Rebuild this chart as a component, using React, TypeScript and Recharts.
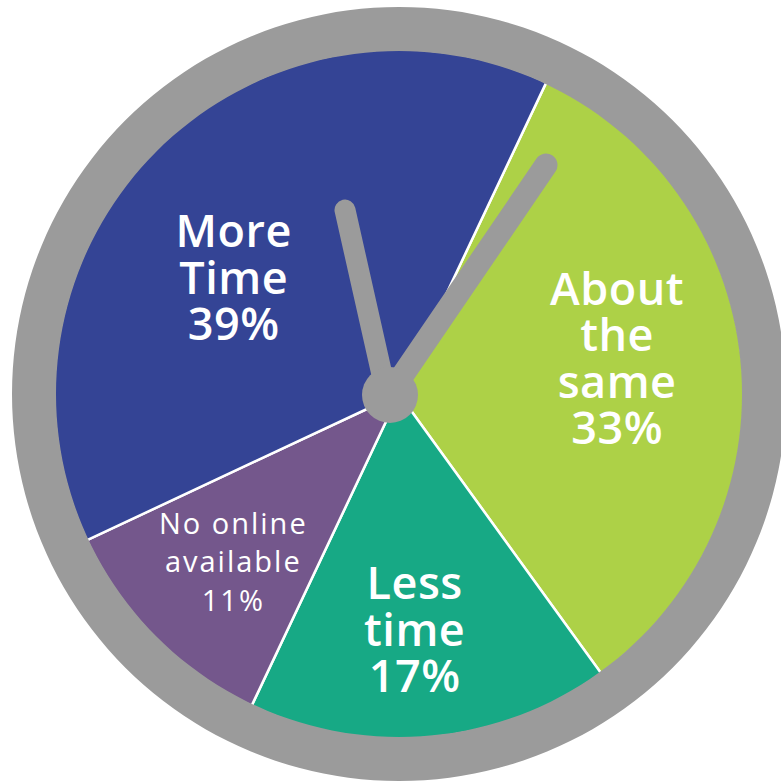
import { PieChart, Pie, Cell } from 'recharts';

const categories = ['About the same', 'Less time', 'No online available', 'More Time'];
const shares = [33, 17, 11, 39];
const labelLines = [
  ['About', 'the', 'same', '33%'],
  ['Less', 'time', '17%'],
  ['No online', 'available', '11%'],
  ['More', 'Time', '39%'],
];

const COLORS = ['#add147', '#17a985', '#74578c', '#344495'];
const RING = '#9b9b9b';

// label placement tweaks (radius from centre, angle nudge in degrees)
const LABEL_POS = [
  { r: 221, da: 4 },
  { r: 236, da: -1.5 },
  { r: 236, da: 0.5 },
  { r: 202, da: 10 },
];

const data = categories.map((name, i) => ({ name, value: shares[i], idx: i }));
const ring = [{ name: 'ring', value: 1 }];

const CX = 399;
const CY = 394;
const RAD = Math.PI / 180;

function SliceLabel(props: any) {
  const { cx, cy, midAngle, index } = props;
  const pos = LABEL_POS[index];
  const a = (midAngle + pos.da) * RAD;
  const x = cx + pos.r * Math.cos(a);
  const y = cy - pos.r * Math.sin(a);
  const lines = labelLines[index];
  const small = index === 2;
  const fs = small ? 29 : 45;
  const lh = small ? 38.5 : 46.5;
  const cap = fs * 0.714;
  const first = y - ((lines.length - 1) * lh + cap) / 2 + cap;
  return (
    <text
      x={x}
      y={first}
      textAnchor="middle"
      fill="#ffffff"
      fontFamily="'Open Sans', sans-serif"
      fontWeight={small ? 500 : 600}
      fontSize={fs}
      letterSpacing={small ? 2 : 0.5}
    >
      {lines.map((t, k) => (
        <tspan key={k} x={x} y={first + k * lh}>{t}</tspan>
      ))}
    </text>
  );
}

export default function App() {
  return (
    <div style={{ position: 'absolute', left: 0, top: 0, width: 781, height: 782, background: '#fff' }}>
      <PieChart width={781} height={782} margin={{ top: 0, right: 0, bottom: 0, left: 0 }}>
        <Pie
          data={data}
          dataKey="value"
          nameKey="name"
          cx={CX}
          cy={CY}
          outerRadius={345}
          startAngle={64.7}
          endAngle={-295.3}
          stroke="#ffffff"
          strokeWidth={2.5}
          label={SliceLabel}
          labelLine={false}
          isAnimationActive={false}
        >
          {data.map((d, i) => (
            <Cell key={d.name} fill={COLORS[i]} />
          ))}
        </Pie>
        <Pie
          data={ring}
          dataKey="value"
          cx={CX}
          cy={CY}
          innerRadius={343}
          outerRadius={387}
          stroke="none"
          fill={RING}
          isAnimationActive={false}
        />
      </PieChart>
      <svg
        width={781}
        height={782}
        style={{ position: 'absolute', left: 0, top: 0, pointerEvents: 'none' }}
      >
        <g stroke={RING} strokeLinecap="round" fill="none">
          <line x1={345} y1={210} x2={385} y2={388} strokeWidth={21} />
          <line x1={546} y1={165} x2={396} y2={385} strokeWidth={23} />
        </g>
        <circle cx={390} cy={395} r={28} fill={RING} />
      </svg>
    </div>
  );
}
